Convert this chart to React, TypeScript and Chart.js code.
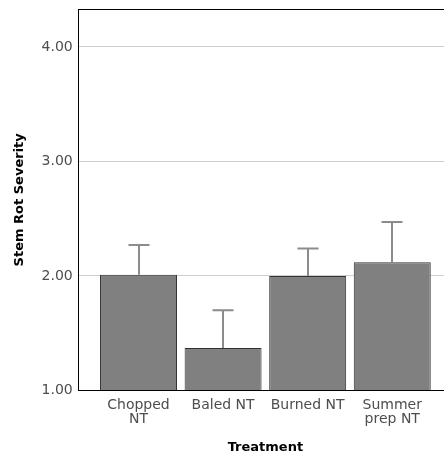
import { useEffect, useRef } from 'react';
import { Chart, registerables } from 'chart.js';

Chart.register(...registerables);

const categories: string[][] = [['Chopped', 'NT'], ['Baled NT'], ['Burned NT'], ['Summer', 'prep NT']];
const means = [2.01, 1.37, 2.0, 2.12];
const upperErrors = [2.27, 1.7, 2.24, 2.47];
const yTickValues = [1, 2, 3, 4];
const yMin = 1;
const yMax = 4.33;
const xMin = -0.718;
const xMax = 3.718;

const errorBarsPlugin = {
  id: 'errorBars',
  afterDatasetsDraw(chart: any) {
    const { ctx, chartArea } = chart;
    const yScale = chart.scales.y;
    const meta = chart.getDatasetMeta(0);
    ctx.save();
    ctx.strokeStyle = '#8c8c8c';
    ctx.lineWidth = 2;
    meta.data.forEach((bar: any, i: number) => {
      const x = Math.round(bar.x);
      const top = bar.y;
      const yU = yScale.getPixelForValue(upperErrors[i]);
      ctx.beginPath();
      ctx.moveTo(x, top);
      ctx.lineTo(x, yU);
      ctx.moveTo(x - 10.5, yU);
      ctx.lineTo(x + 10.5, yU);
      ctx.stroke();
    });
    ctx.restore();
    ctx.save();
    ctx.strokeStyle = '#000';
    ctx.lineWidth = 1;
    const l = Math.round(chartArea.left) + 0.5;
    const t = Math.round(chartArea.top) + 0.5;
    const r = Math.round(chartArea.right) + 0.5;
    const b = Math.round(chartArea.bottom) + 0.5;
    ctx.strokeRect(l, t, r - l, b - t);
    ctx.restore();
  },
};

export default function App() {
  const canvasRef = useRef<HTMLCanvasElement | null>(null);

  useEffect(() => {
    if (!canvasRef.current) return;
    const chart = new Chart(canvasRef.current, {
      type: 'bar',
      data: {
        datasets: [
          {
            data: means.map((m, i) => ({ x: i, y: m })),
            backgroundColor: '#808080',
            borderColor: '#333333',
            borderWidth: 1,
            barPercentage: 1,
            categoryPercentage: 0.91,
          },
        ],
      },
      options: {
        animation: false,
        responsive: true,
        maintainAspectRatio: false,
        layout: { padding: { top: 9, left: 7, right: 3, bottom: 1 } },
        plugins: { legend: { display: false }, tooltip: { enabled: false } },
        scales: {
          x: {
            type: 'linear',
            offset: false,
            min: xMin,
            max: xMax,
            afterBuildTicks: (scale: any) => {
              scale.ticks = categories.map((_, i) => ({ value: i }));
            },
            ticks: {
              autoSkip: false,
              maxRotation: 0,
              minRotation: 0,
              includeBounds: false,
              color: '#4d4d4d',
              padding: 0,
              font: { family: 'DejaVu Sans', size: 14, lineHeight: 1.0 },
              callback: (v: any) => categories[Math.round(v)] ?? '',
            },
            grid: { display: false },
            border: { display: false },
            title: {
              display: true,
              text: 'Treatment',
              color: '#000000',
              font: { family: 'DejaVu Sans', size: 13, weight: 'bold' },
              padding: { top: 13, bottom: 0 },
            },
          },
          y: {
            type: 'linear',
            min: yMin,
            max: yMax,
            afterBuildTicks: (scale: any) => {
              scale.ticks = yTickValues.map((v) => ({ value: v }));
            },
            ticks: {
              includeBounds: false,
              color: '#4d4d4d',
              padding: 5,
              font: { family: 'DejaVu Sans', size: 14, lineHeight: 0.6 },
              callback: (v: any) => Number(v).toFixed(2),
            },
            grid: {
              drawTicks: false,
              color: (ctx: any) => (ctx.tick && ctx.tick.value === yMin ? 'rgba(0,0,0,0)' : '#cfcfcf'),
              lineWidth: 1,
            },
            border: { display: false },
            title: {
              display: true,
              text: 'Stem Rot Severity',
              color: '#000000',
              font: { family: 'DejaVu Sans', size: 13, weight: 'bold' },
              padding: { top: 5, bottom: 9 },
            },
          },
        },
      },
      plugins: [errorBarsPlugin],
    });
    return () => chart.destroy();
  }, []);

  return (
    <div style={{ position: 'fixed', left: 0, top: 0, width: 444, height: 456, overflow: 'hidden', background: '#fff' }}>
      <div style={{ position: 'relative', width: 456, height: 456 }}>
        <canvas ref={canvasRef} />
      </div>
    </div>
  );
}
